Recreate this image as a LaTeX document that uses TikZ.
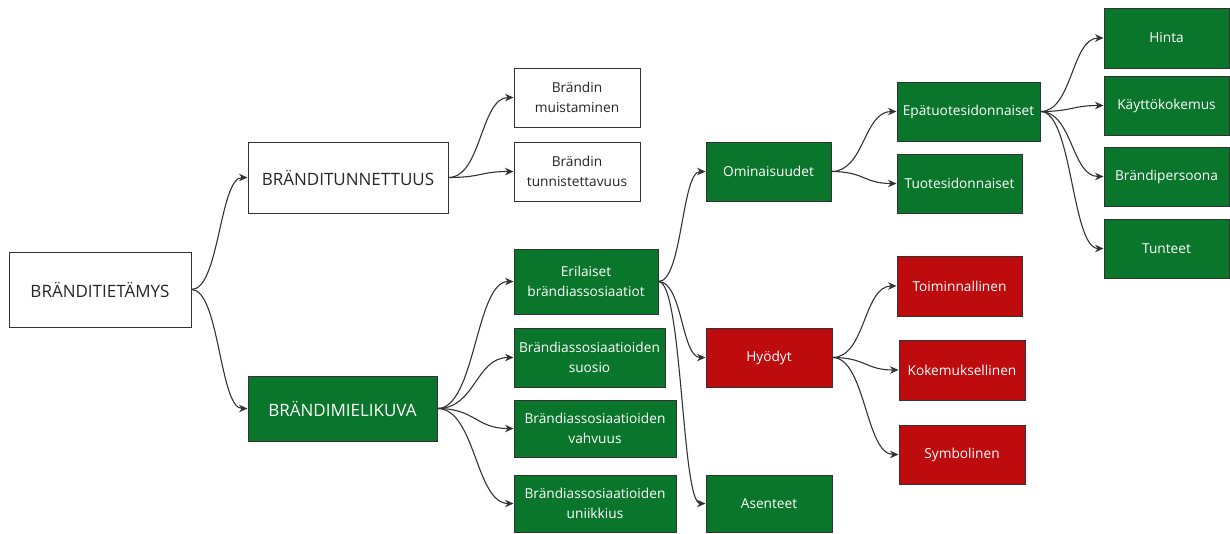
\documentclass[tikz,border=0pt]{standalone}
\usepackage{fontspec}
\setmainfont{Open Sans}
\usetikzlibrary{arrows.meta}
\definecolor{grn}{HTML}{0A762B}
\definecolor{rd}{HTML}{BE0B0E}
\definecolor{ln}{HTML}{333333}
\tikzset{
  base/.style={draw=ln, line width=1pt, inner sep=0pt, align=center, font=\fontsize{13.7}{19.3}\selectfont},
  wbox/.style={base, fill=white, text=black!85},
  gbox/.style={base, fill=grn, text=white},
  rbox/.style={base, fill=rd, text=white},
  big/.style={font=\fontsize{17}{20}\selectfont},
  conn/.style={draw=ln, line width=1.1pt, -{Stealth[length=8.5pt,width=7.5pt]}}
}
\newcommand\bx[7]{\node[#6, minimum width={#4pt-#2pt}, minimum height={#5pt-#3pt}] (#1) at ({(#2+#4)/2},{(#3+#5)/2}) {#7};}
\newcommand\cn[3]{\draw[conn] (#1.east) .. controls +(#3,0) and +(-#3,0) .. (#2.west);}
\begin{document}
\begin{tikzpicture}[x=1pt,y=-1pt]
\useasboundingbox (0,0) rectangle (1230,533);
\bx{root}{9}{252}{191}{327}{wbox,big}{BRÄNDITIETÄMYS}
\bx{tun}{248}{142}{448}{213}{wbox,big}{BRÄNDITUNNETTUUS}
\bx{mie}{248}{376}{437}{441}{gbox,big}{BRÄNDIMIELIKUVA}
\bx{mui}{514}{68}{640}{127}{wbox}{Brändin\\muistaminen}
\bx{tnt}{514}{142}{640}{201}{wbox}{Brändin\\tunnistettavuus}
\bx{eri}{514}{249}{658}{314}{gbox}{Erilaiset\\brändiassosiaatiot}
\bx{suo}{514}{328}{665}{387}{gbox}{Brändiassosiaatioiden\\suosio}
\bx{vah}{514}{400}{676}{457}{gbox}{Brändiassosiaatioiden\\vahvuus}
\bx{uni}{514}{475}{676}{532}{gbox}{Brändiassosiaatioiden\\uniikkius}
\bx{omi}{706}{142}{831}{201}{gbox}{Ominaisuudet}
\bx{hyo}{706}{328}{832}{387}{rbox}{Hyödyt}
\bx{ase}{706}{475}{832}{532}{gbox}{Asenteet}
\bx{epa}{897}{82}{1040}{141}{gbox}{Epätuotesidonnaiset}
\bx{tuo}{897}{154}{1022}{213}{gbox}{Tuotesidonnaiset}
\bx{toi}{897}{256}{1022}{316}{rbox}{Toiminnallinen}
\bx{kok}{899}{340}{1025}{400}{rbox}{Kokemuksellinen}
\bx{sym}{899}{425}{1025}{484}{rbox}{Symbolinen}
\bx{hin}{1104}{8}{1229}{68}{gbox}{Hinta}
\bx{kay}{1104}{76}{1229}{135}{gbox}{Käyttökokemus}
\bx{bp}{1104}{147}{1229}{206}{gbox}{Brändipersoona}
\bx{tte}{1104}{219}{1229}{278}{gbox}{Tunteet}
\cn{root}{tun}{28}
\cn{root}{mie}{28}
\cn{tun}{mui}{33}
\cn{tun}{tnt}{33}
\cn{mie}{eri}{38}
\cn{mie}{suo}{38}
\cn{mie}{vah}{38}
\cn{mie}{uni}{38}
\cn{eri}{omi}{24}
\cn{eri}{hyo}{24}
\cn{eri}{ase}{24}
\cn{omi}{epa}{33}
\cn{omi}{tuo}{33}
\cn{hyo}{toi}{33}
\cn{hyo}{kok}{33}
\cn{hyo}{sym}{33}
\cn{epa}{hin}{32}
\cn{epa}{kay}{32}
\cn{epa}{bp}{32}
\cn{epa}{tte}{32}
\end{tikzpicture}
\end{document}
